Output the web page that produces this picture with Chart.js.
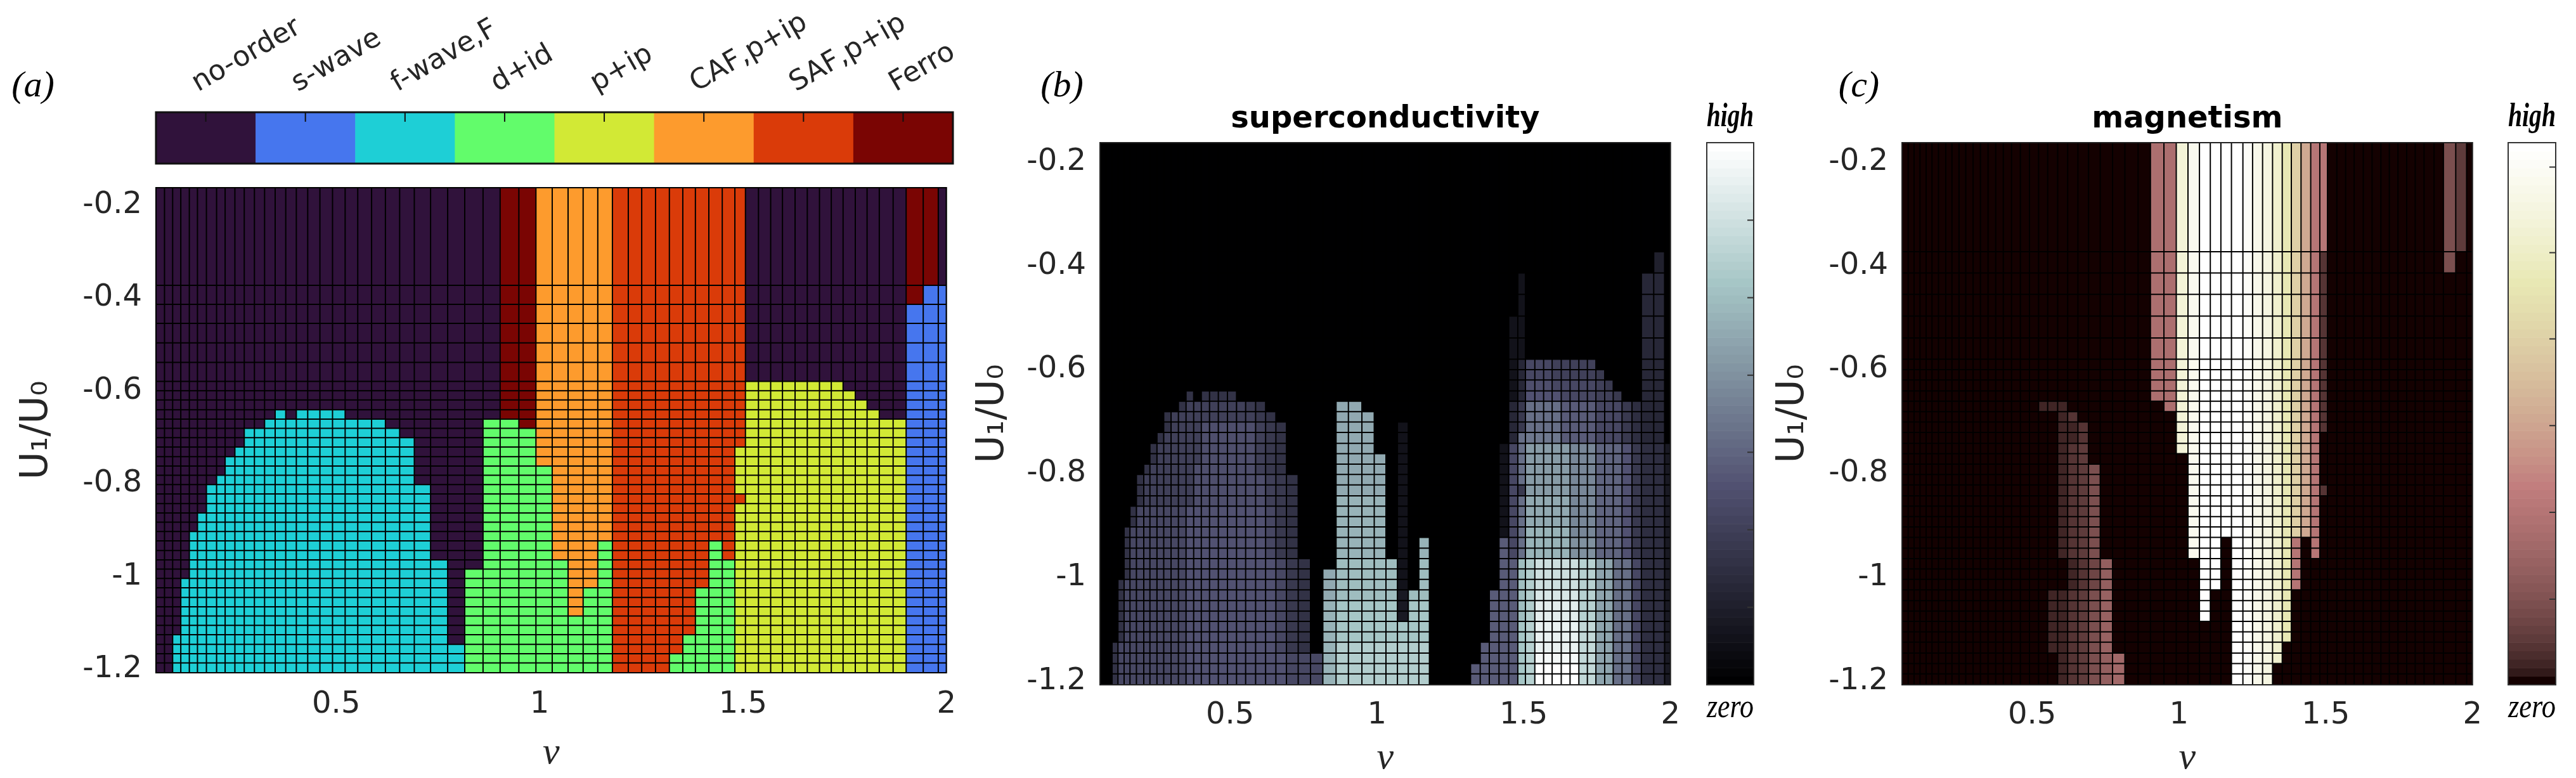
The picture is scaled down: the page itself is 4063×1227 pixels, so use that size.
<!DOCTYPE html>
<html>
<head>
<meta charset="utf-8">
<script src="https://cdn.jsdelivr.net/npm/chart.js@4.4.1/dist/chart.umd.min.js"></script>
<style>
  body { margin: 0; background: #fff; width: 4063px; height: 1227px; position: relative; overflow: hidden; }
  canvas { position: absolute; }
  .tag { position: absolute; font-family: 'Liberation Serif', serif; font-style: italic; font-size: 58px; line-height: 1; transform: translate(-50%, -50%); color: #000; }
</style>
</head>
<body>
<div class="tag" style="left:52px;top:133px">(a)</div>
<div class="tag" style="left:1675px;top:133px">(b)</div>
<div class="tag" style="left:2932px;top:133px">(c)</div>

<canvas id="cbA" width="1600" height="260" style="left:0;top:0"></canvas>
<canvas id="heatA" width="1530" height="987" style="left:0;top:240px"></canvas>
<canvas id="heatB" width="1170" height="1227" style="left:1500px;top:0"></canvas>
<canvas id="cbB" width="200" height="1227" style="left:2600px;top:0"></canvas>
<canvas id="heatC" width="1165" height="1227" style="left:2770px;top:0"></canvas>
<canvas id="cbC" width="163" height="1227" style="left:3900px;top:0"></canvas>

<script>
// phase names and colours of panel (a)
var phaseNames = ['no-order', 's-wave', 'f-wave,F', 'd+id', 'p+ip', 'CAF,p+ip', 'SAF,p+ip', 'Ferro'];
var phaseColors = ['#30123b', '#4676ee', '#1ecfd6', '#62fc6b', '#d2e935', '#fd9b2d', '#da3b09', '#7a0503'];
var phaseTicks = [0.5, 1.5, 2.5, 3.5, 4.5, 5.5, 6.5, 7.5];

// cell edges of the (nu, U1/U0) grid
var nuEdges = [0.057, 0.078, 0.098, 0.118, 0.139, 0.159, 0.181, 0.206, 0.227, 0.251,
  0.274, 0.299, 0.324, 0.350, 0.376, 0.402, 0.430, 0.460, 0.491, 0.522,
  0.553, 0.587, 0.621, 0.656, 0.692, 0.732, 0.774, 0.816, 0.861, 0.903,
  0.949, 0.991, 1.031, 1.070, 1.107, 1.143, 1.179, 1.218, 1.251, 1.285,
  1.319, 1.352, 1.383, 1.416, 1.449, 1.480, 1.506, 1.538, 1.568, 1.597,
  1.628, 1.658, 1.688, 1.717, 1.746, 1.776, 1.805, 1.835, 1.869, 1.901,
  1.943, 1.980, 2.000];
var uEdges = [-0.163, -0.373, -0.414, -0.455, -0.497, -0.539, -0.580, -0.600, -0.620, -0.641,
  -0.661, -0.681, -0.701, -0.721, -0.742, -0.762, -0.782, -0.802, -0.822, -0.843,
  -0.863, -0.883, -0.903, -0.923, -0.944, -0.964, -0.984, -1.004, -1.024, -1.045,
  -1.065, -1.085, -1.105, -1.125, -1.146, -1.166, -1.186, -1.207];

var nuTicks = [0.5, 1, 1.5, 2];
var uTicks = [-1.2, -1, -0.8, -0.6, -0.4, -0.2];

// rows from top (U1/U0 = -0.16) to bottom (-1.2), run-length coded "value*count"
// panel (a): phase index
var phaseRows = [
  "0*29 7*2 5*5 6*10 0*13 7*2 0",
  "0*29 7*2 5*5 6*10 0*13 7 1*2",
  "0*29 7*2 5*5 6*10 0*13 1*3",
  "0*29 7*2 5*5 6*10 0*13 1*3",
  "0*29 7*2 5*5 6*10 0*13 1*3",
  "0*29 7*2 5*5 6*10 0*13 1*3",
  "0*29 7*2 5*5 6*10 4*8 0*5 1*3",
  "0*29 7*2 5*5 6*10 4*9 0*4 1*3",
  "0*29 7*2 5*5 6*10 4*10 0*3 1*3",
  "0*13 2 0 2*4 0*10 7*2 5*5 6*10 4*11 0*2 1*3",
  "0*12 2*10 0*6 3*2 7 5*5 6*10 4*13 1*3",
  "0*10 2*13 0*5 3*3 5*5 6*10 4*13 1*3",
  "0*10 2*14 0*4 3*3 5*5 6*10 4*13 1*3",
  "0*9 2*15 0*4 3*3 5*5 6*9 4*14 1*3",
  "0*8 2*16 0*4 3*3 5*5 6*9 4*14 1*3",
  "0*8 2*16 0*4 3*4 5*4 6*9 4*14 1*3",
  "0*7 2*17 0*4 3*4 5*4 6*9 4*14 1*3",
  "0*6 2*19 0*3 3*4 5*4 6*9 4*14 1*3",
  "0*6 2*19 0*3 3*4 5*4 6*10 4*13 1*3",
  "0*6 2*19 0*3 3*4 5*4 6*9 4*14 1*3",
  "0*5 2*20 0*3 3*4 5*4 6*9 4*14 1*3",
  "0*5 2*20 0*3 3*4 5*4 6*9 4*14 1*3",
  "0*4 2*21 0*3 3*4 5*4 6*9 4*14 1*3",
  "0*4 2*21 0*3 3*4 5*3 3 6*7 3 6 4*14 1*3",
  "0*4 2*21 0*3 3*4 5*3 3 6*7 3 6 4*14 1*3",
  "0*4 2*22 0*2 3*5 5*2 3 6*7 3*2 4*14 1*3",
  "0*4 2*22 0 3*6 5*2 3 6*7 3*2 4*14 1*3",
  "0*3 2*23 0 3*6 5*2 3 6*7 3*2 4*14 1*3",
  "0*3 2*23 0 3*6 5 3*2 6*6 3*3 4*14 1*3",
  "0*3 2*23 0 3*6 5 3*2 6*6 3*3 4*14 1*3",
  "0*3 2*23 0 3*6 5 3*2 6*6 3*3 4*14 1*3",
  "0*3 2*23 0 3*9 6*6 3*3 4*14 1*3",
  "0*3 2*23 0 3*9 6*6 3*3 4*14 1*3",
  "0*2 2*24 0 3*9 6*5 3*4 4*14 1*3",
  "0*2 2*25 3*9 6*5 3*4 4*14 1*3",
  "0*2 2*25 3*9 6*4 3*5 4*14 1*3",
  "0*2 2*25 3*9 6*4 3*5 4*14 1*3"
];

// panel (b): superconductivity, base-36 digit / 35 (0 = zero, z = high)
var scRows = [
  "0*62",
  "0*60 5 0",
  "0*45 3 0*13 6*2 0",
  "0*45 3 0*13 6*2 0",
  "0*44 3*2 0*13 6*2 0",
  "0*44 3*2 0*13 6*2 0",
  "0*44 3 6 b*3 a*5 0*5 6*2 0",
  "0*44 3 6 b*3 a*5 9 0*4 6*2 0",
  "0*44 3 6 c*3 b*5 a 9 0*3 6*2 0",
  "0*13 8 0 8*4 0*25 3 6 d*4 b*4 a*2 9 0*2 6*2 0",
  "0*12 8 a*7 9 8 0*6 n*2 0*14 6 9 g*4 e*4 b*3 9 7 6*2 0",
  "0*10 8 a*10 9 8 0*5 n*3 0*13 6 9 g*4 e*4 b*3 9 7 6*2 0",
  "0*10 8 a*4 c*6 a 9 8 0*4 n*3 0*2 3 0*10 6 9 g*4 e*4 b*3 9 7 6*2 0",
  "0*9 8 a*5 c*6 a 9 8 0*4 n*3 0*2 3 0*10 6 g h*4 e*4 b*3 9 7 6*2 0",
  "0*8 8 a*6 c*6 a 9 8 0*4 n*3 0*2 3 0*9 3 b g l*5 j*3 f*3 d 9 7*2 4",
  "0*8 8 a*6 c*6 a 9 8 0*4 n*4 0 3 0*9 3 b g l*5 j*3 f*3 d 9 7*2 4",
  "0*7 8 a*6 c*7 a 9 8 0*4 n*4 0 3 0*9 3 b g l*5 j*3 f*3 d 9 7*2 4",
  "0*6 8 a*7 c*8 a 9 8 0*3 n*4 0 3 0*9 3 b g l*5 j*3 f*3 d 9 7*2 4",
  "0*6 8 a*7 c*8 a 9 8 0*3 n*4 0 3 0*9 3 b 9 l*5 j*3 f*3 d 9 7*2 4",
  "0*6 8 a*7 c*8 a 9 8 0*3 o*4 0 3 0*9 3 b g n*5 j*3 f*3 d 9 7*2 4",
  "0*5 8 b*7 d*9 b 9 8 0*3 o*4 0 3 0*9 3 b g n*5 j*3 f*3 d 9 7*2 4",
  "0*5 8 b*7 d*9 b 9 8 0*3 o*4 0 3 0*9 3 b g n*5 j*3 f*3 d 9 7*2 4",
  "0*4 8 b*8 d*9 b 9 8 0*3 o*4 0 3 0*9 3 b g o*5 j*3 f*3 d 9 7*2 4",
  "0*4 8 b*8 d*9 b 9 8 0*3 o*4 0 3 0 o 0*7 e b g o*5 k*3 f*3 d 9 7*2 4",
  "0*4 8 b*8 d*9 b 9 8 0*3 o*4 0 3 0 o 0*7 e b g o*5 k*3 f*3 d 9 7*2 4",
  "0*4 8 b*8 d*10 b 9 8 0*2 p*5 3 0 p 0*7 e*2 p r u*5 s*2 m*2 g*2 b 7*2 4",
  "0*4 8 b*8 d*10 b 9 8 0 n p*5 3 0 p 0*7 e*2 p r u*5 s*2 m*2 g*2 b 7*2 4",
  "0*3 8 b*9 d*10 b 9 8 0 n p*5 3 0 p 0*7 e*2 p r u*5 s*2 m*2 g*2 b 7*2 4",
  "0*3 8 b*9 d*10 b 9 8 0 n p*5 4 p*2 0*6 e*3 p r v*5 s*2 m*2 g*2 b 7*2 4",
  "0*3 8 b*9 d*10 b 9 8 0 o q*5 4 q*2 0*6 e*3 p r w*5 s*2 m*2 g*2 b 7*2 4",
  "0*3 8 b*9 d*10 b 9 8 0 o q*5 4 q*2 0*6 e*3 p r w*5 s*2 m*2 g*2 b 7*2 4",
  "0*3 8 b*9 d*10 b 9 8 0 o q*8 0*6 e*3 q s x*5 t*2 m*2 g*2 b 7*2 4",
  "0*3 8 b*9 d*10 b 9 8 0 o q*8 0*6 e*3 q s x*5 t*2 m*2 g*2 b 7*2 4",
  "0*2 8 b*10 d*10 b 9 8 0 o r*8 0*5 e*4 q s x*5 t*2 m*2 g*2 b 7*2 4",
  "0*2 8 b*10 d*11 b*3 o r*8 0*5 e*4 q s y*5 t*2 m*2 g*2 b 7*2 4",
  "0*2 8 b*10 d*11 b*3 o r*8 0*4 e*5 q s z*5 t*2 m*2 g*2 b 7*2 4",
  "0*2 8 b*10 d*11 b*3 o r*8 0*4 e*5 q s z*5 t*2 m*2 g*2 b 7*2 4"
];

// panel (c): magnetism, base-36 digit / 35
var magRows = [
  "0*29 a*2 u x z*4 y w v t q m h b*2 0*13 5 3 0",
  "0*29 a*2 u x z*4 y w v t q m h b 2 0*13 5 0*2",
  "0*29 a*2 u x z*4 y w v t q m h b 2 0*16",
  "0*29 a*2 u x z*4 y w v t q m h b 2 0*16",
  "0*29 a*2 u x z*4 y w v t q m h b 2 0*16",
  "0*29 a*2 u x z*4 y w v t q m h b 2 0*16",
  "0*29 a*2 u x z*4 y w v t q m h b 2 0*16",
  "0*29 a*2 u x z*4 y w v t q m h b 2 0*16",
  "0*29 a*2 u x z*4 y w v t q m h b 2 0*16",
  "0*29 a*2 u x z*4 y w v t q m h b 2 0*16",
  "0*19 1*3 0*8 a u x z*4 y w v t q m h b 2 0*16",
  "0*21 1 2 0*8 u x z*4 y w v t q m h b 2 0*16",
  "0*21 1*2 2 0*7 u x z*4 y w v t q m h b 2 0*16",
  "0*21 1*2 2 0*7 u x z*4 y w v t q m h b 0*17",
  "0*21 1 2 3 0*7 u x z*4 y w v t q m h b 0*17",
  "0*21 1 2 3 0*8 x z*4 y w v t q m h b 0*17",
  "0*21 1 2 3 5 0*7 x z*4 y w v t q m h b 0*17",
  "0*21 1 2 3 5 0*7 x z*4 y w v t q m h b 0*17",
  "0*21 1 2 3 5 0*7 x z*4 y w v t q m h b 2 0*16",
  "0*21 1 2 3 5 0*7 x z*4 y w v t q m h b 0*17",
  "0*21 1 2 3 5 0*7 x z*4 y w v t q m h b 0*17",
  "0*21 1 2 3 5 0*7 x z*4 y w v t q m h b 0*17",
  "0*21 1 2 3 5 0*7 x z*4 y w v t q m h b 0*17",
  "0*21 1 2 3 5 0*7 x z*2 0 z y w v t q b 0 b 0*17",
  "0*21 1 2 3 5 0*7 x z*2 0 z y w v t q b 0 b 0*17",
  "0*22 1 2 4 7 0*7 z*2 0 z y w v t q b 0*19",
  "0*22 1 2 4 7 0*7 z*2 0 z y w v t q b 0*19",
  "0*22 1 2 4 7 0*7 z*2 0 z y w v t q b 0*19",
  "0*20 1*2 2 3 5 8 0*7 z 0*2 z y w v t q 0*20",
  "0*20 1*2 2 3 5 8 0*7 z 0*2 z y w v t q 0*20",
  "0*20 1*2 2 3 5 8 0*7 z 0*2 z y w v t q 0*20",
  "0*20 1*2 2 3 5 8 0*10 z y w v t q 0*20",
  "0*20 1*2 2 3 5 8 0*10 z y w v t q 0*20",
  "0*20 1*2 2 3 5 8 0*10 z y w v t 0*21",
  "0*21 1 2 3 5 7 9 0*9 z y w v t 0*21",
  "0*21 1 2 3 5 7 9 0*9 z y w v 0*22",
  "0*21 1 2 3 5 7 9 0*9 z y w v 0*22"
];

// colour bar tick positions (fraction of bar height, from the bottom)
var scBarTicks = [0.143, 0.286, 0.429, 0.571, 0.714, 0.857];
var magBarTicks = [0.158, 0.318, 0.478, 0.638, 0.797, 0.955];

function expandRow(rle, decode) {
  var out = [];
  rle.trim().split(/\s+/).forEach(function (tok) {
    var parts = tok.split('*');
    var n = parts.length > 1 ? parseInt(parts[1], 10) : 1;
    for (var i = 0; i < n; i++) out.push(decode(parts[0]));
  });
  if (out.length !== nuEdges.length - 1) console.warn('row length', out.length, rle);
  return out;
}
var level = function (ch) { return parseInt(ch, 36) / 35; };
var phaseCells = phaseRows.map(function (r) { return expandRow(r, function (ch) { return parseInt(ch, 10); }); });
var scCells = scRows.map(function (r) { return expandRow(r, level); });
var magCells = magRows.map(function (r) { return expandRow(r, level); });

// matlab style 64-level colormaps
function hot64(k) {
  var c = function (v) { return Math.min(1, Math.max(0, v)); };
  return [c((k + 1) / 24), c((k - 23) / 24), c((k - 47) / 16)];
}
function rgb(r, g, b) {
  return 'rgb(' + Math.round(r * 255) + ',' + Math.round(g * 255) + ',' + Math.round(b * 255) + ')';
}
function bone(t) {
  var k = Math.round(t * 63), g = k / 63, h = hot64(k);
  return rgb((7 * g + h[2]) / 8, (7 * g + h[1]) / 8, (7 * g + h[0]) / 8);
}
function pink(t) {
  var k = Math.round(t * 63), g = k / 63, h = hot64(k);
  if (k === 0) return 'rgb(20,1,1)';
  return rgb(Math.sqrt((2 * g + h[0]) / 3), Math.sqrt((2 * g + h[1]) / 3), Math.sqrt((2 * g + h[2]) / 3));
}

Chart.defaults.font.family = "'DejaVu Sans', sans-serif";
Chart.defaults.color = '#262626';

// draws the cells of a grid through the chart scales
function cellLayer(grid) {
  return {
    id: 'cellLayer',
    beforeDatasetsDraw: function (chart) {
      var ctx = chart.ctx, a = chart.chartArea, xs = chart.scales.x, ys = chart.scales.y;
      var px = grid.xEdges.map(function (v) { return xs.getPixelForValue(v); });
      var py = grid.yEdges.map(function (v) { return ys.getPixelForValue(v); });
      ctx.save();
      ctx.beginPath();
      ctx.rect(a.left, a.top, a.width, a.height);
      ctx.clip();
      grid.cells.forEach(function (row, r) {
        var y0 = Math.min(py[r], py[r + 1]), h = Math.abs(py[r + 1] - py[r]);
        row.forEach(function (v, c) {
          var x0 = Math.min(px[c], px[c + 1]), w = Math.abs(px[c + 1] - px[c]);
          ctx.fillStyle = grid.color(v);
          ctx.fillRect(x0, y0, w + 0.6, h + 0.6);
        });
      });
      if (grid.edge) {
        ctx.strokeStyle = grid.edge;
        ctx.lineWidth = grid.edgeWidth;
        ctx.beginPath();
        px.forEach(function (p) { ctx.moveTo(p, py[0]); ctx.lineTo(p, py[py.length - 1]); });
        py.forEach(function (p) { ctx.moveTo(px[0], p); ctx.lineTo(px[px.length - 1], p); });
        ctx.stroke();
      }
      ctx.restore();
      ctx.save();
      ctx.strokeStyle = grid.frame || '#262626';
      ctx.lineWidth = grid.frameWidth || 2;
      ctx.strokeRect(a.left, a.top, a.width, a.height);
      if (grid.ticks) {
        ctx.beginPath();
        grid.ticks.forEach(function (v) {
          if (grid.tickSide === 'top') {
            var x = xs.getPixelForValue(v);
            ctx.moveTo(x, a.top); ctx.lineTo(x, a.top + grid.tickLen);
          } else {
            var y = ys.getPixelForValue(v);
            ctx.moveTo(a.right, y); ctx.lineTo(a.right - grid.tickLen, y);
          }
        });
        ctx.lineWidth = 2;
        ctx.stroke();
      }
      // slanted category labels above a horizontal colour bar
      if (grid.labels) {
        ctx.fillStyle = '#262626';
        ctx.font = "44px 'DejaVu Sans', sans-serif";
        ctx.textAlign = 'left';
        ctx.textBaseline = 'alphabetic';
        grid.labels.forEach(function (txt, i) {
          var x = xs.getPixelForValue(grid.ticks[i]);
          ctx.save();
          ctx.translate(x - 12, a.top - 32);
          ctx.rotate(-30 * Math.PI / 180);
          ctx.fillText(txt, 0, 0);
          ctx.restore();
        });
      }
      ctx.restore();
    }
  };
}

var tickFont = { family: "'DejaVu Sans', sans-serif", size: 48 };
var serifItalic = function (size, lh) { return { family: "'Liberation Serif', serif", style: 'italic', size: size, lineHeight: lh || 1.2 }; };

function heatChart(id, grid, o) {
  return new Chart(document.getElementById(id), {
    type: 'scatter',
    data: { datasets: [] },
    options: {
      responsive: false, animation: false, devicePixelRatio: 1,
      layout: { padding: o.padding },
      plugins: {
        legend: { display: false }, tooltip: { enabled: false },
        title: o.title ? {
          display: true, text: o.title, fullSize: false, color: '#000',
          font: { size: 48, weight: 'bold' }, padding: { top: 160, bottom: 7.4 }
        } : { display: false }
      },
      scales: {
        x: {
          type: 'linear', min: 0.057, max: 2.0,
          grid: { display: false, drawTicks: false }, border: { display: false },
          afterBuildTicks: function (s) { s.ticks = nuTicks.map(function (v) { return { value: v }; }); },
          afterFit: function (s) { s.height = o.xHeight; },
          ticks: { font: tickFont, padding: o.xTickPad, maxRotation: 0, callback: function (v) { return String(v); } },
          title: { display: true, text: 'ν', font: serifItalic(60, 1), padding: { top: 0, bottom: o.nuPad } }
        },
        y: {
          type: 'linear', min: -1.207, max: -0.163,
          grid: { display: false, drawTicks: false }, border: { display: false },
          afterBuildTicks: function (s) { s.ticks = uTicks.map(function (v) { return { value: v }; }); },
          afterFit: function (s) { s.width = o.yWidth; },
          ticks: { font: tickFont, padding: 22, callback: function (v) { return String(v); } },
          title: { display: true, text: 'U₁/U₀', font: { size: 60 }, padding: { top: o.uPad, bottom: 0 } }
        }
      }
    },
    plugins: [cellLayer(grid)]
  });
}

function barChart(id, color, ticks, o) {
  var bands = [], edges = [];
  for (var i = 0; i <= 64; i++) edges.push(i / 64);
  for (var j = 0; j < 64; j++) bands.push([j / 63]);
  return new Chart(document.getElementById(id), {
    type: 'scatter',
    data: { datasets: [] },
    options: {
      responsive: false, animation: false, devicePixelRatio: 1,
      layout: { padding: o.padding },
      plugins: {
        legend: { display: false }, tooltip: { enabled: false },
        title: { display: true, text: 'high', position: 'top', fullSize: false, color: '#000', font: serifItalic(52), padding: { top: 154, bottom: 8.6 } },
        subtitle: { display: true, text: 'zero', position: 'bottom', fullSize: false, color: '#000', font: serifItalic(52), padding: { top: 6, bottom: 78.6 } }
      },
      scales: {
        x: { type: 'linear', display: false, min: 0, max: 1 },
        y: { type: 'linear', display: false, min: 0, max: 1 }
      }
    },
    plugins: [cellLayer({
      xEdges: [0, 1], yEdges: edges, cells: bands, color: color,
      frame: '#333', frameWidth: 2, ticks: ticks, tickSide: 'right', tickLen: 10
    })]
  });
}

// (a) phase colour bar
new Chart(document.getElementById('cbA'), {
  type: 'scatter',
  data: { datasets: [] },
  options: {
    responsive: false, animation: false, devicePixelRatio: 1,
    layout: { padding: { left: 246, right: 97, top: 0, bottom: 2 } },
    plugins: { legend: { display: false }, tooltip: { enabled: false } },
    scales: {
      x: {
        type: 'linear', position: 'top', min: 0, max: 8,
        grid: { display: false, drawTicks: false }, border: { display: false },
        afterBuildTicks: function (s) { s.ticks = phaseTicks.map(function (v) { return { value: v }; }); },
        afterFit: function (s) { s.height = 177; },
        ticks: { display: false }
      },
      y: { type: 'linear', display: false, min: 0, max: 1 }
    }
  },
  plugins: [cellLayer({
    xEdges: [0, 1, 2, 3, 4, 5, 6, 7, 8], yEdges: [1, 0], cells: [[0, 1, 2, 3, 4, 5, 6, 7]],
    color: function (v) { return phaseColors[v]; },
    frame: '#111', frameWidth: 3, ticks: phaseTicks, tickSide: 'top', tickLen: 15, labels: phaseNames
  })]
});

heatChart('heatA', {
  xEdges: nuEdges, yEdges: uEdges, cells: phaseCells,
  color: function (v) { return phaseColors[v]; }, edge: '#000', edgeWidth: 2, frame: '#000', frameWidth: 2
}, { padding: { left: 0, right: 33, top: 56, bottom: 0 }, yWidth: 246, xHeight: 166, xTickPad: 22, nuPad: 9, uPad: 22 });

heatChart('heatB', {
  xEdges: nuEdges, yEdges: uEdges, cells: scCells,
  color: bone, edge: '#000', edgeWidth: 2, frame: '#222', frameWidth: 2
}, { title: 'superconductivity', padding: { left: 0, right: 23, top: 0, bottom: 0 }, yWidth: 235, xHeight: 147, xTickPad: 20, nuPad: 1, uPad: 30 });

heatChart('heatC', {
  xEdges: nuEdges, yEdges: uEdges, cells: magCells,
  color: pink, edge: '#000', edgeWidth: 2, frame: '#222', frameWidth: 2
}, { title: 'magnetism', padding: { left: 0, right: 23, top: 0, bottom: 0 }, yWidth: 230, xHeight: 147, xTickPad: 20, nuPad: 1, uPad: 22 });

barChart('cbB', bone, scBarTicks, { padding: { left: 92, right: 34, top: 0, bottom: 0 } });
barChart('cbC', pink, magBarTicks, { padding: { left: 56, right: 32, top: 0, bottom: 0 } });
</script>
</body>
</html>
